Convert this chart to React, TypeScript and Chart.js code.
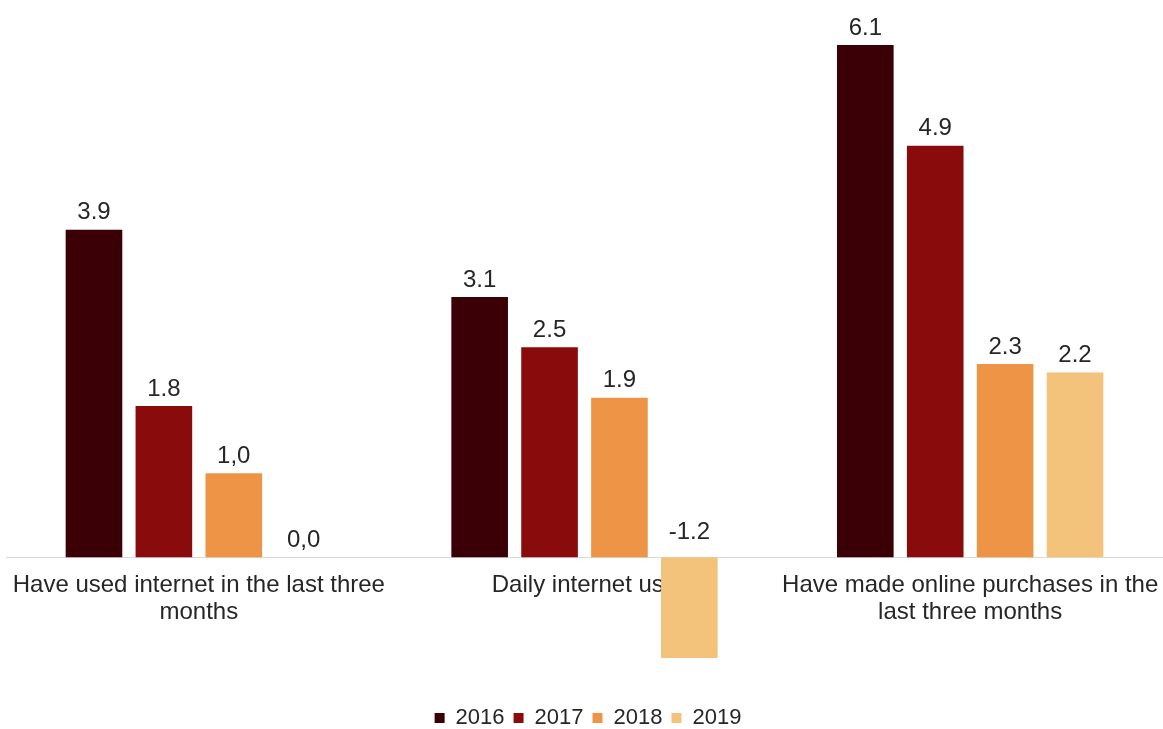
import React, { useEffect, useRef } from "react";
import { Chart, registerables } from "chart.js";

Chart.register(...registerables);

const categories: string[][] = [
  ["Have used internet in the last three", "months"],
  ["Daily internet use"],
  ["Have made online purchases in the", "last three months"],
];
const seriesNames = ["2016", "2017", "2018", "2019"];
const values2016 = [3.9, 3.1, 6.1];
const values2017 = [1.8, 2.5, 4.9];
const values2018 = [1.0, 1.9, 2.3];
const values2019 = [0.0, -1.2, 2.2];
const labels2016 = ["3.9", "3.1", "6.1"];
const labels2017 = ["1.8", "2.5", "4.9"];
const labels2018 = ["1,0", "1.9", "2.3"];
const labels2019 = ["0,0", "-1.2", "2.2"];
const colors = ["#3a0005", "#890b0b", "#ee9447", "#f3c27b"];

const FONT = "'Liberation Sans', Arial, sans-serif";

const valueLabelPlugin = {
  id: "valueLabels",
  afterDatasetsDraw(chart: any) {
    const ctx = chart.ctx;
    const allLabels = [labels2016, labels2017, labels2018, labels2019];
    const yScale = chart.scales.y;
    const base = yScale.getPixelForValue(0);
    ctx.save();
    ctx.font = `24px ${FONT}`;
    ctx.fillStyle = "#262626";
    ctx.textAlign = "center";
    ctx.textBaseline = "middle";
    chart.data.datasets.forEach((ds: any, i: number) => {
      const meta = chart.getDatasetMeta(i);
      meta.data.forEach((el: any, j: number) => {
        const v = ds.data[j];
        const top = Math.min(el.y, base);
        const off = v < 0 ? 25 : 17;
        ctx.fillText(allLabels[i][j], el.x, top - off);
      });
    });
    ctx.restore();
  },
};

export default function App() {
  const ref = useRef<HTMLCanvasElement | null>(null);
  useEffect(() => {
    document.body.style.margin = "0";
    const series = [values2016, values2017, values2018, values2019];
    const chart = new Chart(ref.current as HTMLCanvasElement, {
      type: "bar",
      data: {
        labels: categories,
        datasets: series.map((d, i) => ({
          label: seriesNames[i],
          data: d,
          backgroundColor: colors[i],
          borderWidth: 0,
          categoryPercentage: 0.725,
          barPercentage: 0.81,
        })),
      },
      options: {
        animation: false,
        responsive: false,
        maintainAspectRatio: false,
        layout: { padding: { top: 45, left: 6, right: -7, bottom: -10 } },
        plugins: {
          tooltip: { enabled: false },
          legend: {
            position: "bottom",
            title: {
              display: true,
              text: " ",
              font: { size: 1 },
              padding: { top: 38.8, bottom: 0 },
            },
            labels: {
              boxWidth: 10,
              boxHeight: 10,
              padding: 9,
              color: "#262626",
              font: { family: FONT, size: 22 },
            },
          },
        },
        scales: {
          x: {
            position: { y: 0 } as any,
            grid: { display: false, drawTicks: false },
            border: { display: true, color: "#d9d9d9", width: 1 },
            ticks: {
              color: "#262626",
              font: { family: FONT, size: 24, lineHeight: 1.15 },
              maxRotation: 0,
              autoSkip: false,
              padding: 14,
            },
            afterFit(scale: any) {
              scale.paddingLeft = 0;
              scale.paddingRight = 0;
            },
          },
          y: {
            display: false,
            min: -1.2,
            max: 6.1,
          },
        },
      },
      plugins: [valueLabelPlugin],
    });
    return () => chart.destroy();
  }, []);
  return (
    <div style={{ position: "fixed", left: 0, top: 0, width: 1163, height: 729, background: "#fff" }}>
      <canvas ref={ref} width={1163} height={729} style={{ width: 1163, height: 729 }} />
    </div>
  );
}
